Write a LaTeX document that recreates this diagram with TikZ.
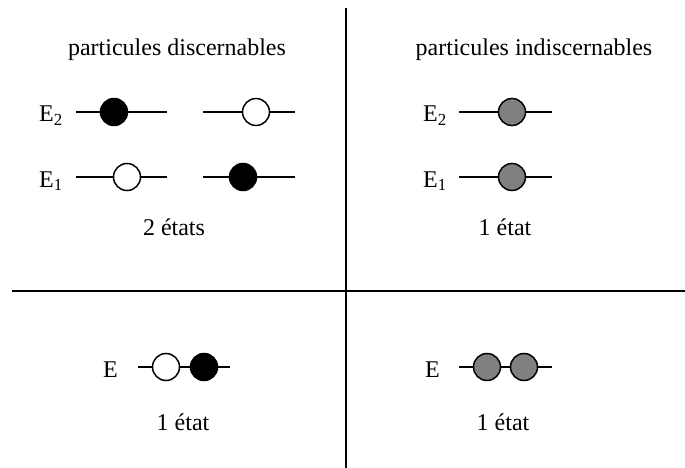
\documentclass[tikz,border=0pt]{standalone}
\usepackage{fontspec}
\setmainfont{Liberation Serif}
\usetikzlibrary{positioning}

\begin{document}
\begin{tikzpicture}[x=1pt,y=-1pt,
    txt/.style = {font=\fontsize{24}{28}\selectfont, inner sep=0pt, anchor=base},
    lev/.style = {txt, anchor=base west},
    part/.style = {draw, circle, line width=1.5pt, minimum size=27pt, inner sep=0pt},
    noir/.style = {part, fill=black},
    blanc/.style = {part, fill=white},
    gris/.style = {part, fill=gray},
    trait/.style = {line width=1.5pt}]
    \useasboundingbox (0,0) rectangle (685,468);

    % axes
    \coordinate (vh) at (346,8);
    \coordinate (vb) at (346,468);
    \coordinate (hg) at (12,291);
    \coordinate (hd) at (685,291);
    \draw[trait] (vh) -- (vb);
    \draw[trait] (hg) -- (hd);

    % titres
    \node[txt] (t1) at (177,56) {particules discernables};
    \node[txt] (t2) at (534,56) {particules indiscernables};

    % discernables
    \node[lev] (e2) at (39,122) {E\textsubscript{2}};
    \node[lev] (e1) at (39,187) {E\textsubscript{1}};
    \coordinate (a1) at (76,112);  \coordinate (a2) at (167,112);
    \coordinate (b1) at (203,112); \coordinate (b2) at (295,112);
    \coordinate (c1) at (76,177);  \coordinate (c2) at (167,177);
    \coordinate (d1) at (203,177); \coordinate (d2) at (295,177);
    \node[noir] (p1) at (114,112) {};
    \node[blanc] (p2) at (256,112) {};
    \node[blanc] (p3) at (127,177) {};
    \node[noir] (p4) at (243,177) {};
    \draw[trait] (a1) -- (p1) -- (a2);
    \draw[trait] (b1) -- (p2) -- (b2);
    \draw[trait] (c1) -- (p3) -- (c2);
    \draw[trait] (d1) -- (p4) -- (d2);
    \node[txt] (n1) at (174,235) {2 états};

    % indiscernables
    \node[lev] (f2) at (423,122) {E\textsubscript{2}};
    \node[lev] (f1) at (423,187) {E\textsubscript{1}};
    \coordinate (g1) at (459,112); \coordinate (g2) at (552,112);
    \coordinate (h1) at (459,177); \coordinate (h2) at (552,177);
    \node[gris] (q1) at (512,112) {};
    \node[gris] (q2) at (512,177) {};
    \draw[trait] (g1) -- (q1) -- (g2);
    \draw[trait] (h1) -- (q2) -- (h2);
    \node[txt] (n2) at (505,235) {1 état};

    % un seul niveau
    \node[lev] (e0) at (103,377) {E};
    \coordinate (k1) at (138,367); \coordinate (k2) at (230,367);
    \node[blanc] (r1) at (166,367) {};
    \node[noir] (r2) at (204,367) {};
    \draw[trait] (k1) -- (r1) -- (r2) -- (k2);
    \node[txt] (n3) at (183,430) {1 état};

    \node[lev] (f0) at (425,377) {E};
    \coordinate (m1) at (459,367); \coordinate (m2) at (552,367);
    \node[gris] (s1) at (487,367) {};
    \node[gris] (s2) at (524,367) {};
    \draw[trait] (m1) -- (s1) -- (s2) -- (m2);
    \node[txt] (n4) at (503,430) {1 état};
\end{tikzpicture}
\end{document}
